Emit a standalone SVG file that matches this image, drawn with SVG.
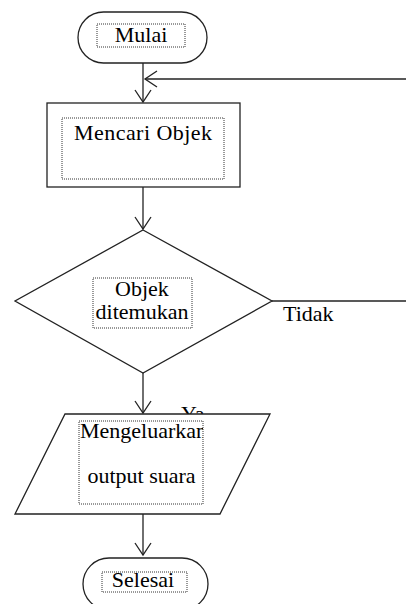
<svg xmlns="http://www.w3.org/2000/svg" width="406" height="604" viewBox="0 0 406 604">
  <style>
    .shape { fill: #ffffff; stroke: #222222; stroke-width: 1.3; }
    .tbox { fill: none; stroke: #333333; stroke-width: 1; stroke-dasharray: 1 1; }
    .lbl { font-family: 'Liberation Serif', 'Times New Roman', serif; font-size: 22px; fill: #000000; }
    .c { text-anchor: middle; }
    .conn { fill: none; stroke: #222222; stroke-width: 1.3; }
  </style>
  <defs>
    <marker id="arrow" markerWidth="16" markerHeight="20" refX="0" refY="0" viewBox="-14 -10 16 20" markerUnits="userSpaceOnUse" orient="auto">
      <path d="M-12,-8 L0,0 L-12,8" fill="none" stroke="#222222" stroke-width="1.3"/>
    </marker>
    <clipPath id="clipOut">
      <rect x="79" y="421" width="124" height="83"/>
    </clipPath>
  </defs>

  <g id="connectors">
    <line class="conn" x1="143" y1="63" x2="143" y2="102" marker-end="url(#arrow)"/>
    <line class="conn" x1="406" y1="79" x2="145" y2="79" marker-end="url(#arrow)"/>
    <line class="conn" x1="143" y1="187" x2="143" y2="229" marker-end="url(#arrow)"/>
    <line class="conn" x1="143" y1="373" x2="143" y2="413" marker-end="url(#arrow)"/>
    <line class="conn" x1="143" y1="514" x2="143" y2="555" marker-end="url(#arrow)"/>
    <line class="conn" x1="272" y1="301" x2="406" y2="301"/>
    <text class="lbl" x="283" y="321">Tidak</text>
    <text class="lbl" x="181" y="421">Ya</text>
  </g>

  <g id="mulai">
    <rect class="shape" x="78" y="12" width="129" height="51" rx="25.5" ry="25.5"/>
    <rect class="tbox" x="97" y="24" width="88" height="23"/>
    <text class="lbl c" x="141" y="42">Mulai</text>
  </g>

  <g id="mencari">
    <rect class="shape" x="47" y="103" width="193" height="84"/>
    <rect class="tbox" x="62" y="118" width="162" height="61"/>
    <text class="lbl c" x="143" y="140" textLength="138" lengthAdjust="spacing">Mencari Objek</text>
  </g>

  <g id="decision">
    <polygon class="shape" points="143,230 272,301 143,373 15,301"/>
    <rect class="tbox" x="93" y="278" width="99" height="50"/>
    <text class="lbl c" x="142" y="296">Objek</text>
    <text class="lbl c" x="142" y="319">ditemukan</text>
  </g>

  <g id="output">
    <polygon class="shape" points="65,414 270,414 220,514 15,514"/>
    <rect class="tbox" x="79" y="421" width="124" height="83"/>
    <g clip-path="url(#clipOut)">
      <text class="lbl" x="80" y="438">Mengeluarkan</text>
    </g>
    <text class="lbl c" x="141.5" y="483">output suara</text>
  </g>

  <g id="selesai">
    <rect class="shape" x="83" y="558" width="125" height="52" rx="26" ry="26"/>
    <rect class="tbox" x="102" y="572" width="85" height="20"/>
    <text class="lbl c" x="143" y="587">Selesai</text>
  </g>
</svg>
